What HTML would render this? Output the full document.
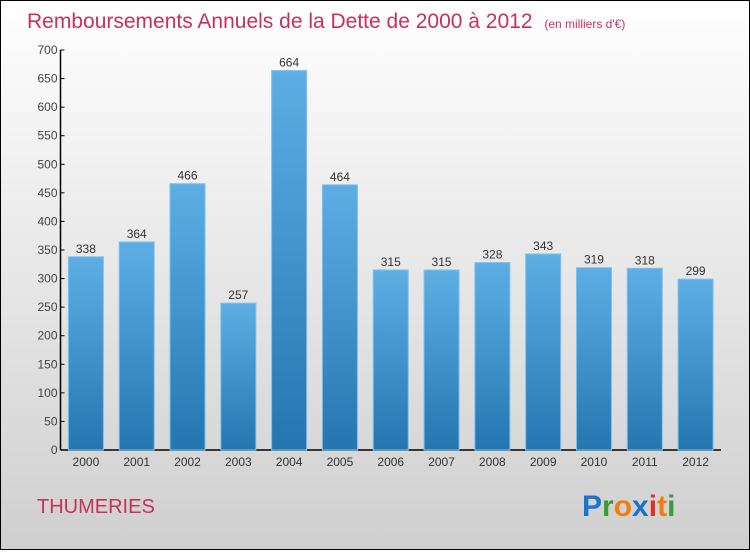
<!DOCTYPE html>
<html><head><meta charset="utf-8"><style>
body{margin:0;width:750px;height:550px;overflow:hidden;font-family:"Liberation Sans",sans-serif}
</style></head><body>
<svg width="750" height="550" xmlns="http://www.w3.org/2000/svg">
<defs>
<linearGradient id="bg" x1="0" y1="0" x2="0" y2="1"><stop offset="0" stop-color="#ffffff"/><stop offset="1" stop-color="#cfcfcf"/></linearGradient>
<linearGradient id="bar" x1="0" y1="0" x2="0" y2="1"><stop offset="0" stop-color="#5eaee6"/><stop offset="1" stop-color="#2575b0"/></linearGradient>
</defs>
<rect x="0.5" y="0.5" width="749" height="549" fill="url(#bg)" stroke="#000"/>
<text x="27" y="28" font-size="21" fill="#c8305e">Remboursements Annuels de la Dette de 2000 à 2012 <tspan font-size="12" dx="6">(en milliers d'€)</tspan></text>
<g id="axes"></g>
<g id="bars"></g>
<text x="37" y="513" font-size="20" fill="#c8305e">THUMERIES</text>
<g font-size="30" font-weight="bold" font-family="Liberation Sans, sans-serif">
<text x="582" y="516"><tspan fill="#1a74c8">P</tspan><tspan fill="#3a9a3a">r</tspan><tspan fill="#f07d10">o</tspan><tspan fill="#1a74c8">x</tspan><tspan fill="#e03020">i</tspan><tspan fill="#f07d10">t</tspan><tspan fill="#3a9a3a">i</tspan></text>
</g>
</svg>
<script>
const categories=["2000","2001","2002","2003","2004","2005","2006","2007","2008","2009","2010","2011","2012"];
const values=[338,364,466,257,664,464,315,315,328,343,319,318,299];
const yTicks=[0,50,100,150,200,250,300,350,400,450,500,550,600,650,700];
const NS="http://www.w3.org/2000/svg";
const x0=60.5,x1=721,yTop=50,yBot=450,yMax=700;
const step=(x1-x0)/categories.length;
function y(v){return yBot-(v/yMax)*(yBot-yTop);}
function xc(i){return x0+step*(i+0.5);}
function mk(t,a,p,txt){const e=document.createElementNS(NS,t);for(const k in a)e.setAttribute(k,a[k]);if(txt!==undefined)e.textContent=txt;p.appendChild(e);return e;}
const ax=document.getElementById('axes'),bg=document.getElementById('bars');
let l=mk('line',{x1:x0,y1:yTop,x2:x0,y2:yBot,stroke:'#000','stroke-width':1.5},ax);


l=mk('line',{x1:x0,y1:yBot,x2:x1,y2:yBot,stroke:'#000','stroke-width':1.5},ax);


yTicks.forEach(v=>{
 mk('line',{x1:x0,y1:y(v),x2:x0+4,y2:y(v),stroke:'#000'},ax);
 const t=mk('text',{x:x0-3,y:y(v)+4,'text-anchor':'end','font-size':12,fill:'#444'},ax,v);
 
 
});
categories.forEach((c,i)=>{
 const w=35,cx=xc(i);
 const r=mk('rect',{x:cx-w/2,y:y(values[i]),width:w,height:yBot-y(values[i]),fill:'url(#bar)',stroke:'#7cc0ee','stroke-width':1},bg);
 
 
 const vl=mk('text',{x:cx,y:y(values[i])-4,'text-anchor':'middle','font-size':12,fill:'#333'},bg,values[i]);
 
 
 const xl=mk('text',{x:cx,y:466,'text-anchor':'middle','font-size':12,fill:'#333'},ax,c);
 
 
});
</script>
</body></html>
